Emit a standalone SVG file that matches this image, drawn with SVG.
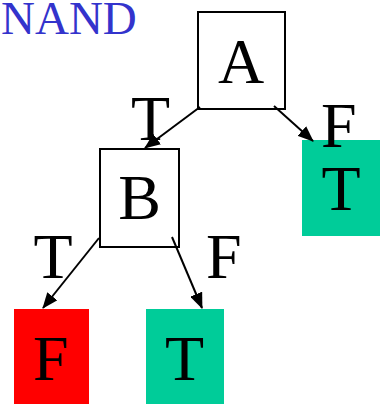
<svg xmlns="http://www.w3.org/2000/svg" width="385" height="404" viewBox="0 0 385 404">
<defs>
<marker id="ah" markerWidth="16" markerHeight="13" refX="15" refY="6.5" orient="auto" markerUnits="userSpaceOnUse">
<path d="M0,0 L16,6.5 L0,13 Z" fill="#000"/>
</marker>
<style>
text{font-family:"Liberation Serif","Times New Roman",serif;font-size:64px;fill:#000}
.box{fill:#fff;stroke:#000;stroke-width:2}
.edge{stroke:#000;stroke-width:2;fill:none;marker-end:url(#ah)}
</style>
</defs>
<rect width="385" height="404" fill="#fff"/>
<text id="title" x="1" y="34" style="font-size:47px;fill:#3333cc">NAND</text>
<g id="nodeA">
<rect class="box" x="198" y="12" width="87" height="97"/>
<text x="241" y="83" text-anchor="middle">A</text>
</g>
<g id="nodeB">
<rect class="box" x="100" y="149" width="79" height="98"/>
<text x="139.5" y="219" text-anchor="middle">B</text>
</g>
<g id="leafT1">
<rect x="302" y="140" width="78" height="96" fill="#00cc99"/>
<text x="341" y="210" text-anchor="middle">T</text>
</g>
<g id="leafF">
<rect x="14" y="309" width="75" height="95" fill="#ff0000"/>
<text x="33" y="380">F</text>
</g>
<g id="leafT2">
<rect x="146" y="309" width="78" height="95" fill="#00cc99"/>
<text x="184.5" y="380" text-anchor="middle">T</text>
</g>
<g id="connectors">
<line class="edge" x1="200" y1="107" x2="145" y2="148"/>
<line class="edge" x1="274" y1="106" x2="313" y2="141"/>
<line class="edge" x1="99" y1="238" x2="43" y2="308"/>
<line class="edge" x1="172" y1="237" x2="202" y2="308"/>
<text x="150.5" y="140" text-anchor="middle">T</text>
<text x="321" y="147">F</text>
<text x="53" y="278" text-anchor="middle">T</text>
<text x="206" y="278">F</text>
</g>
</svg>
